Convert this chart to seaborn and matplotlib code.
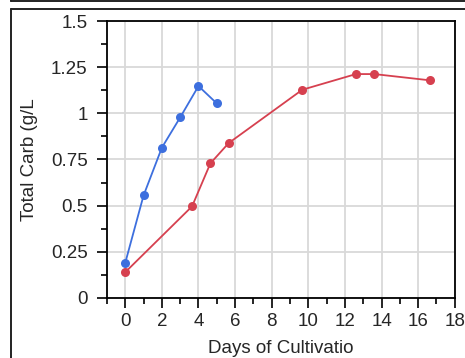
import matplotlib
matplotlib.use("Agg")
import matplotlib.pyplot as plt
from matplotlib.lines import Line2D
from matplotlib.ticker import MultipleLocator
import pandas as pd
import seaborn as sns

# Culture A (faster growth)
days_a = [0, 1, 2, 3, 4, 5]
carb_a = [0.19, 0.555, 0.814, 0.978, 1.148, 1.054]

# Culture B (slower growth)
days_b = [0, 3.65, 4.65, 5.65, 9.67, 12.6, 13.6, 16.65]
carb_b = [0.139, 0.496, 0.729, 0.839, 1.128, 1.213, 1.213, 1.179]

x_ticks = [0, 2, 4, 6, 8, 10, 12, 14, 16, 18]
y_ticks = [0, 0.25, 0.5, 0.75, 1.0, 1.25, 1.5]
y_tick_labels = ["0", "0.25", "0.5", "0.75", "1", "1.25", "1.5"]

df = pd.DataFrame({
    "day": days_a + days_b,
    "carb": carb_a + carb_b,
    "culture": ["A"] * len(days_a) + ["B"] * len(days_b),
})

sns.set_theme(style="white")
plt.rcParams["font.family"] = ["Liberation Sans", "DejaVu Sans"]

fig = plt.figure(figsize=(4.65, 3.58), dpi=100)
ax = fig.add_axes([0.230, 0.168, 0.748, 0.773])

ax.grid(True, which="major", color="#d9d9d9", linewidth=1.3, zorder=0)
ax.set_axisbelow(True)

sns.lineplot(
    data=df, x="day", y="carb", hue="culture",
    palette={"A": "#3d6fde", "B": "#d6404f"},
    marker="o", markersize=6.5, markeredgewidth=0,
    linewidth=1.3, sort=False, estimator=None, legend=False, ax=ax,
)

ax.set_xlim(-1, 18)
ax.set_ylim(0, 1.5)
ax.set_xticks(x_ticks)
ax.set_yticks(y_ticks)
ax.set_yticklabels(y_tick_labels)
ax.xaxis.set_minor_locator(MultipleLocator(1))
ax.yaxis.set_minor_locator(MultipleLocator(0.125))
ax.tick_params(axis="both", which="major", direction="out", length=7,
               width=1.2, color="black", labelsize=13.5, pad=4,
               bottom=True, left=True)
ax.tick_params(axis="y", which="major", pad=7)
ax.tick_params(axis="both", which="minor", direction="out", length=4,
               width=1.2, color="black", bottom=True, left=True)
for s in ax.spines.values():
    s.set_color("black")
    s.set_linewidth(1.3)

ax.set_xlabel("Days of Cultivatio", fontsize=13.5, labelpad=7)
ax.set_ylabel("Total Carb (g/L", fontsize=13.5, labelpad=9)

# Panel frame lines around the chart
frame_kw = dict(color="#222222", linewidth=1.4, transform=fig.transFigure)
left_x = 10.5 / 465
fig.add_artist(Line2D([left_x, 1.0], [1 - 1.2 / 358] * 2, **frame_kw))
fig.add_artist(Line2D([left_x, left_x], [1 - 1.2 / 358, 1.0], **frame_kw))
fig.add_artist(Line2D([left_x, 1.0], [1 - 8.5 / 358] * 2, **frame_kw))
fig.add_artist(Line2D([left_x, left_x], [0.0, 1 - 8.5 / 358], **frame_kw))

fig.savefig("out.png", dpi=100)
